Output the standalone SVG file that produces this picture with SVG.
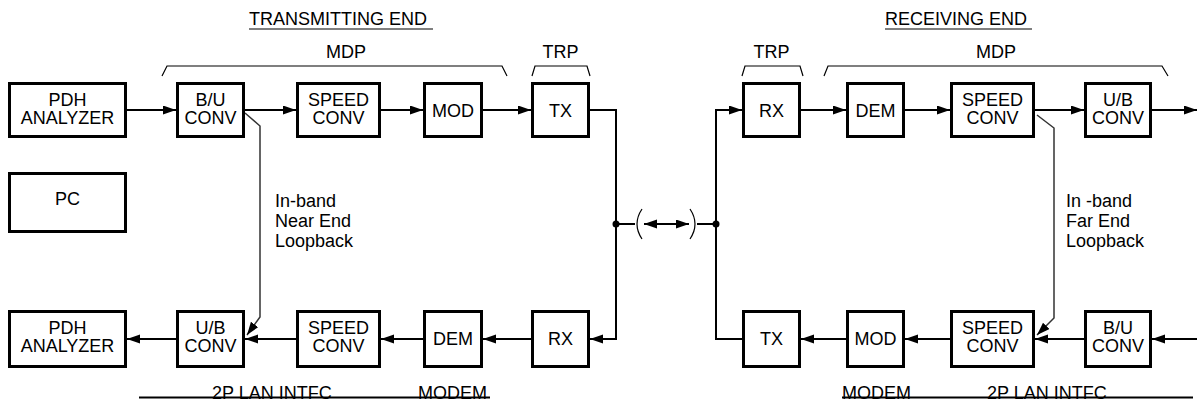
<svg xmlns="http://www.w3.org/2000/svg" width="1197" height="401" viewBox="0 0 1197 401">
<style>
text{font-family:"Liberation Sans",Arial,sans-serif;font-size:18px;fill:#000}
.c{text-anchor:middle}
.box rect{fill:#fff;stroke:#000;stroke-width:3}
.ln{fill:none;stroke:#000;stroke-width:2}
.thin{fill:none;stroke:#000;stroke-width:1.2}
.lb{fill:none;stroke:#333;stroke-width:1.5}
</style>
<defs>
<marker id="ah" markerUnits="userSpaceOnUse" markerWidth="14" markerHeight="10" refX="13" refY="4.5" orient="auto">
<path d="M0,0 L13,4.5 L0,9 z" fill="#000"/>
</marker>
<marker id="ahs" markerUnits="userSpaceOnUse" markerWidth="14" markerHeight="10" refX="13" refY="4.5" orient="auto-start-reverse">
<path d="M0,0 L13,4.5 L0,9 z" fill="#000"/>
</marker>
</defs>

<g id="labels">
<text x="249" y="25">TRANSMITTING END</text>
<line x1="249" y1="29" x2="433" y2="29" stroke="#000" stroke-width="1.2"/>
<text x="885" y="25">RECEIVING END</text>
<line x1="885" y1="29" x2="1032" y2="29" stroke="#000" stroke-width="1.2"/>
<text class="c" x="346" y="58">MDP</text>
<text class="c" x="560.5" y="58">TRP</text>
<text class="c" x="771.5" y="58">TRP</text>
<text class="c" x="996" y="58">MDP</text>
<path class="thin" d="M162,76 L167,66 L502,66 L507,76"/>
<path class="thin" d="M532,76 L535,66 L587,66 L590,76"/>
<path class="thin" d="M742,76 L745,66 L800,66 L803,76"/>
<path class="thin" d="M824,76 L828,66 L1162,66 L1168,76"/>
<text x="275" y="207">In-band</text>
<text x="275" y="227">Near End</text>
<text x="275" y="247">Loopback</text>
<text x="1066" y="207">In -band</text>
<text x="1066" y="227">Far End</text>
<text x="1066" y="247">Loopback</text>
<text x="212" y="399">2P LAN INTFC</text>
<text x="418" y="399">MODEM</text>
<line x1="139" y1="397.5" x2="490" y2="397.5" stroke="#000" stroke-width="2"/>
<text x="842" y="399">MODEM</text>
<text x="987" y="399">2P LAN INTFC</text>
<line x1="842" y1="397.5" x2="1193" y2="397.5" stroke="#000" stroke-width="2"/>
</g>

<g id="connectors">
<line class="ln" x1="127" y1="110" x2="176" y2="110" marker-end="url(#ah)"/>
<line class="ln" x1="245" y1="110" x2="296" y2="110" marker-end="url(#ah)"/>
<line class="ln" x1="381" y1="110" x2="423" y2="110" marker-end="url(#ah)"/>
<line class="ln" x1="483" y1="110" x2="531" y2="110" marker-end="url(#ah)"/>
<path class="ln" d="M590,110 H616 V339 H590" marker-end="url(#ah)"/>
<line class="ln" x1="531" y1="339" x2="483" y2="339" marker-end="url(#ah)"/>
<line class="ln" x1="423" y1="339" x2="381" y2="339" marker-end="url(#ah)"/>
<line class="ln" x1="296" y1="339" x2="245" y2="339" marker-end="url(#ah)"/>
<line class="ln" x1="176" y1="339" x2="127" y2="339" marker-end="url(#ah)"/>
<path class="ln" d="M742,339 H716 V110 H742" marker-end="url(#ah)"/>
<line class="ln" x1="801" y1="110" x2="846" y2="110" marker-end="url(#ah)"/>
<line class="ln" x1="905" y1="110" x2="950" y2="110" marker-end="url(#ah)"/>
<line class="ln" x1="1035" y1="110" x2="1084" y2="110" marker-end="url(#ah)"/>
<line class="ln" x1="1152" y1="110" x2="1197" y2="110" marker-end="url(#ah)"/>
<line class="ln" x1="1197" y1="339" x2="1152" y2="339" marker-end="url(#ah)"/>
<line class="ln" x1="1084" y1="339" x2="1035" y2="339" marker-end="url(#ah)"/>
<line class="ln" x1="950" y1="339" x2="905" y2="339" marker-end="url(#ah)"/>
<line class="ln" x1="846" y1="339" x2="801" y2="339" marker-end="url(#ah)"/>
<path class="lb" d="M245,113 L260,126 V317 L247,335" marker-end="url(#ah)" stroke="#000"/>
<path class="lb" d="M1037,115 L1054,128 V318 L1037,335" marker-end="url(#ah)"/>
<line class="ln" x1="616" y1="224" x2="635" y2="224"/>
<line class="ln" x1="697" y1="224" x2="716" y2="224"/>
<line class="ln" x1="644" y1="224" x2="689" y2="224" marker-start="url(#ahs)" marker-end="url(#ahs)"/>
<path class="thin" d="M642,209 Q632,224 642,239"/>
<path class="thin" d="M690,209 Q700,224 690,239"/>
<circle cx="616" cy="224" r="3.5" fill="#000"/>
<circle cx="716" cy="224" r="3.5" fill="#000"/>
</g>

<g id="pdh-top" class="box"><rect x="9.5" y="83.5" width="116" height="53"/><text class="c" x="67.5" y="106">PDH</text><text class="c" x="67.5" y="124">ANALYZER</text></g>
<g id="bu-top" class="box"><rect x="177.5" y="83.5" width="66" height="53"/><text class="c" x="210.5" y="106">B/U</text><text class="c" x="210.5" y="124">CONV</text></g>
<g id="speed-top" class="box"><rect x="297.5" y="83.5" width="82" height="53"/><text class="c" x="338.5" y="106">SPEED</text><text class="c" x="338.5" y="124">CONV</text></g>
<g id="mod-top" class="box"><rect x="424.5" y="83.5" width="57" height="53"/><text class="c" x="453" y="117">MOD</text></g>
<g id="tx-top" class="box"><rect x="532.5" y="83.5" width="56" height="53"/><text class="c" x="560.5" y="117">TX</text></g>
<g id="rx-top" class="box"><rect x="743.5" y="83.5" width="56" height="53"/><text class="c" x="771.5" y="117">RX</text></g>
<g id="dem-top" class="box"><rect x="847.5" y="83.5" width="56" height="53"/><text class="c" x="875.5" y="117">DEM</text></g>
<g id="speed-top-r" class="box"><rect x="951.5" y="83.5" width="82" height="53"/><text class="c" x="992.5" y="106">SPEED</text><text class="c" x="992.5" y="124">CONV</text></g>
<g id="ub-top" class="box"><rect x="1085.5" y="83.5" width="65" height="53"/><text class="c" x="1118" y="106">U/B</text><text class="c" x="1118" y="124">CONV</text></g>

<g id="pc" class="box"><rect x="9.5" y="173.5" width="116" height="58"/><text class="c" x="67.5" y="205">PC</text></g>

<g id="pdh-bot" class="box"><rect x="9.5" y="311.5" width="116" height="55"/><text class="c" x="67.5" y="334">PDH</text><text class="c" x="67.5" y="352">ANALYZER</text></g>
<g id="ub-bot" class="box"><rect x="177.5" y="311.5" width="66" height="55"/><text class="c" x="210.5" y="334">U/B</text><text class="c" x="210.5" y="352">CONV</text></g>
<g id="speed-bot" class="box"><rect x="297.5" y="311.5" width="82" height="55"/><text class="c" x="338.5" y="334">SPEED</text><text class="c" x="338.5" y="352">CONV</text></g>
<g id="dem-bot" class="box"><rect x="424.5" y="311.5" width="57" height="55"/><text class="c" x="453" y="345">DEM</text></g>
<g id="rx-bot" class="box"><rect x="532.5" y="311.5" width="56" height="55"/><text class="c" x="560.5" y="345">RX</text></g>
<g id="tx-bot" class="box"><rect x="743.5" y="311.5" width="56" height="55"/><text class="c" x="771.5" y="345">TX</text></g>
<g id="mod-bot" class="box"><rect x="847.5" y="311.5" width="56" height="55"/><text class="c" x="875.5" y="345">MOD</text></g>
<g id="speed-bot-r" class="box"><rect x="951.5" y="311.5" width="82" height="55"/><text class="c" x="992.5" y="334">SPEED</text><text class="c" x="992.5" y="352">CONV</text></g>
<g id="bu-bot" class="box"><rect x="1085.5" y="311.5" width="65" height="55"/><text class="c" x="1118" y="334">B/U</text><text class="c" x="1118" y="352">CONV</text></g>
</svg>
